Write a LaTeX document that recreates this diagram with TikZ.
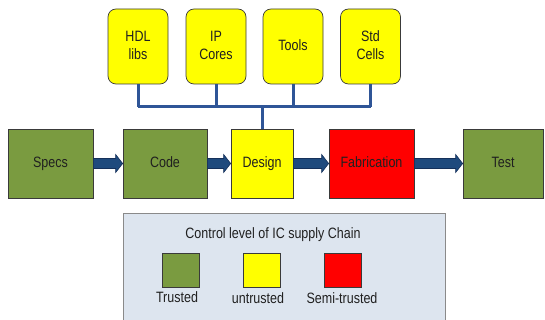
\documentclass[tikz,border=0pt]{standalone}
\usepackage{fontspec}
\setmainfont{Liberation Sans}
\usepackage{graphicx}
\usetikzlibrary{calc}
\definecolor{trustgreen}{HTML}{7A9B40}
\definecolor{untrustyellow}{HTML}{FFFF00}
\definecolor{semired}{HTML}{FF0000}
\definecolor{boxedge}{HTML}{3A3A3A}
\definecolor{busblue}{HTML}{2F5597}
\definecolor{arrowblue}{HTML}{1F4A7D}
\definecolor{arrowedge}{HTML}{15305A}
\definecolor{legendfill}{HTML}{DDE5EF}
\definecolor{legendedge}{HTML}{8A8A8A}
\definecolor{inktext}{HTML}{202020}
% tall, narrow lettering
\newcommand\talltext[1]{\scalebox{1}[1.2]{\begin{tabular}{@{}c@{}}#1\end{tabular}}}
% block arrow between two named nodes
\newcommand\blockarrow[2]{%
  \path let \p1=(#1.east), \p2=(#2.west) in
    [fill=arrowblue, draw=arrowedge, line width=0.6pt]
    (\x1,\y1+5pt) -- (\x2-7pt,\y1+5pt) -- (\x2-7pt,\y1+9pt) -- (\x2,\y1)
    -- (\x2-7pt,\y1-9pt) -- (\x2-7pt,\y1-5pt) -- (\x1,\y1-5pt) -- cycle;}
\tikzset{
  every node/.style={font=\fontsize{12.5}{15}\selectfont, text=inktext, inner sep=0pt},
  srcbox/.style={draw=boxedge, line width=0.7pt, fill=untrustyellow, rounded corners=8pt,
    minimum width=60pt, minimum height=75pt},
  stagebox/.style={draw=boxedge, line width=0.7pt, minimum height=69pt},
  swatch/.style={draw=boxedge, line width=0.7pt, minimum width=37pt, minimum height=34pt},
  bus/.style={draw=busblue, line width=3pt},
}
\begin{document}
\begin{tikzpicture}[x=1pt, y=-1pt]
\useasboundingbox (0,0) rectangle (545,320);
\begin{scope}
\clip (0,0) rectangle (545,320);

% design inputs
\node[srcbox] (hdl)   at (138,46.5)   {\talltext{HDL\\libs}};
\node[srcbox] (ip)    at (216,46.5)   {\talltext{IP\\Cores}};
\node[srcbox] (tools) at (293,46.5)   {\talltext{Tools}};
\node[srcbox] (std)   at (370.5,46.5) {\talltext{Std\\Cells}};

% flow stages
\node[stagebox, fill=trustgreen,    minimum width=85pt] (specs)  at (50.5,163.5)  {\talltext{Specs}};
\node[stagebox, fill=trustgreen,    minimum width=84pt] (code)   at (165,163.5)   {\talltext{Code}};
\node[stagebox, fill=untrustyellow, minimum width=62pt] (design) at (262,163.5)   {\talltext{Design}};
\node[stagebox, fill=semired,       minimum width=85pt] (fab)    at (371.5,163.5) {\talltext{Fabrication}};
\node[stagebox, fill=trustgreen,    minimum width=80pt] (test)   at (503,163.5)   {\talltext{Test}};

% bus collecting the inputs into the design stage
\coordinate (busL) at (138,107);
\coordinate (busR) at (370.5,107);
\coordinate (busM) at (262,107);
\path[bus] (busL) -- (busR);
\path[bus] (hdl.south) -- (busL);
\path[bus] (ip.south) -- (ip.south |- busL);
\path[bus] (tools.south) -- (tools.south |- busL);
\path[bus] (std.south) -- (busR);
\path[bus] (busM) -- (design.north);

% stage-to-stage arrows
\blockarrow{specs}{code}
\blockarrow{code}{design}
\blockarrow{design}{fab}
\blockarrow{fab}{test}

% legend
\node[draw=legendedge, line width=0.8pt, fill=legendfill, minimum width=322pt, minimum height=112pt]
  (legend) at (284,269) {};
\node (ltitle) at (273,235) {\talltext{Control level of IC supply Chain}};
\node[swatch, fill=trustgreen]    (sw1) at (181,270)   {};
\node[swatch, fill=untrustyellow] (sw2) at (261.5,270) {};
\node[swatch, fill=semired]       (sw3) at (342.5,270) {};
\node (l1) at (177,299) {\talltext{Trusted}};
\node (l2) at (258,300) {\talltext{untrusted}};
\node (l3) at (342,300) {\talltext{Semi-trusted}};
\end{scope}
\end{tikzpicture}
\end{document}
